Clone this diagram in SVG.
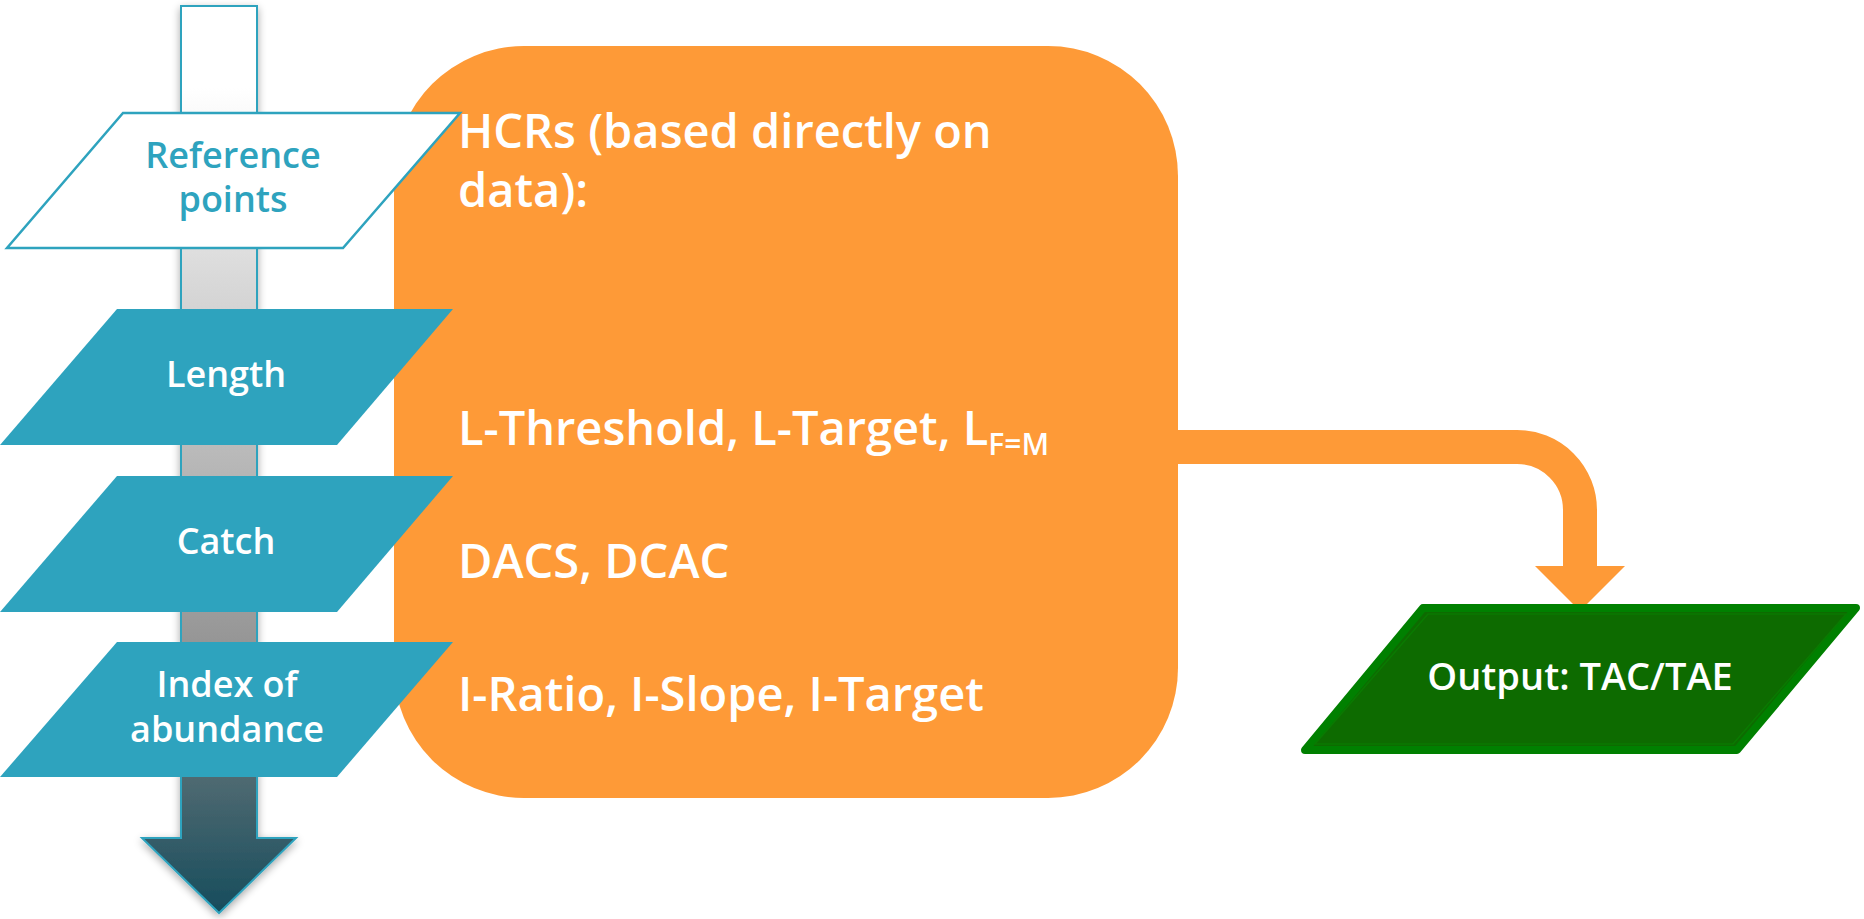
<svg xmlns="http://www.w3.org/2000/svg" width="1864" height="919" viewBox="0 0 1864 919">
<defs>
<linearGradient id="shaftGrad" gradientUnits="userSpaceOnUse" x1="0" y1="6" x2="0" y2="913">
<stop offset="0" stop-color="#ffffff"/>
<stop offset="0.09" stop-color="#ffffff"/>
<stop offset="0.3" stop-color="#d9d9d9"/>
<stop offset="0.55" stop-color="#b0b0b0"/>
<stop offset="0.7" stop-color="#969696"/>
<stop offset="0.77" stop-color="#6e7a7d"/>
<stop offset="1" stop-color="#164c5c"/>
</linearGradient>
<filter id="shadow" x="-30%" y="-5%" width="160%" height="110%">
<feGaussianBlur in="SourceAlpha" stdDeviation="4"/>
<feOffset dx="0" dy="3" result="b"/>
<feComponentTransfer><feFuncA type="linear" slope="0.35"/></feComponentTransfer>
<feMerge><feMergeNode/><feMergeNode in="SourceGraphic"/></feMerge>
</filter>
</defs>
<style>
.lbl{font-family:"Open Sans","Noto Sans","DejaVu Sans",sans-serif;font-size:36px;font-weight:600;fill:#ffffff;text-anchor:middle}
.ref{fill:#2ea3be}
.blue{fill:#2ea3be}
.hcr{font-family:"Open Sans","Noto Sans","DejaVu Sans",sans-serif;font-size:47px;font-weight:600;fill:#ffffff}
.sub{font-size:30px}
.out{font-family:"Open Sans","Noto Sans","DejaVu Sans",sans-serif;font-size:38px;font-weight:600;fill:#ffffff;text-anchor:middle}
</style>

<g id="flow-arrow">
<path d="M181,6 H257 V838 H296 L219,913 L142,838 H181 Z" fill="url(#shaftGrad)" stroke="#2ea3be" stroke-width="2" filter="url(#shadow)"/>
</g>

<g id="hcr-box">
<rect x="394" y="46" width="784" height="752" rx="130" ry="130" fill="#fe9a37"/>
</g>

<g id="connectors">
<path d="M1176,447 H1517 A63,63 0 0 1 1580,510 V568" fill="none" stroke="#fe9a37" stroke-width="34"/>
<polygon points="1535,566 1625,566 1580,611" fill="#fe9a37"/>
</g>

<g id="reference-points">
<polygon points="123,113 460,113 343,248 7,248" fill="#ffffff" stroke="#2ea3be" stroke-width="2.5"/>
<text class="lbl ref" x="233" y="168">Reference</text>
<text class="lbl ref" x="233" y="212">points</text>
</g>

<g id="length">
<polygon points="117,309 453,309 337,445 0,445" class="blue"/>
<text class="lbl" x="226" y="387">Length</text>
</g>

<g id="catch">
<polygon points="117,476 453,476 337,612 0,612" class="blue"/>
<text class="lbl" x="226" y="554">Catch</text>
</g>

<g id="index">
<polygon points="117,642 453,642 337,777 0,777" class="blue"/>
<text class="lbl" x="227" y="697">Index of</text>
<text class="lbl" x="227" y="742">abundance</text>
</g>

<g id="hcr-text">
<text class="hcr" x="458" y="148">HCRs (based directly on</text>
<text class="hcr" x="458" y="207">data):</text>
<text class="hcr" x="458" y="445">L-Threshold, L-Target, L<tspan class="sub" dy="10">F=M</tspan></text>
<text class="hcr" x="458" y="578">DACS, DCAC</text>
<text class="hcr" x="458" y="711">I-Ratio, I-Slope, I-Target</text>
</g>

<g id="output">
<polygon points="1423,608 1856,608 1737,750 1305,750" fill="#0d6b00" stroke="#008000" stroke-width="8" stroke-linejoin="round"/>
<polygon points="1428,614 1846,614 1733,744 1315,744" fill="none" stroke="#0a7a00" stroke-width="1.5"/>
<text class="out" x="1580" y="690">Output: TAC/TAE</text>
</g>
</svg>
